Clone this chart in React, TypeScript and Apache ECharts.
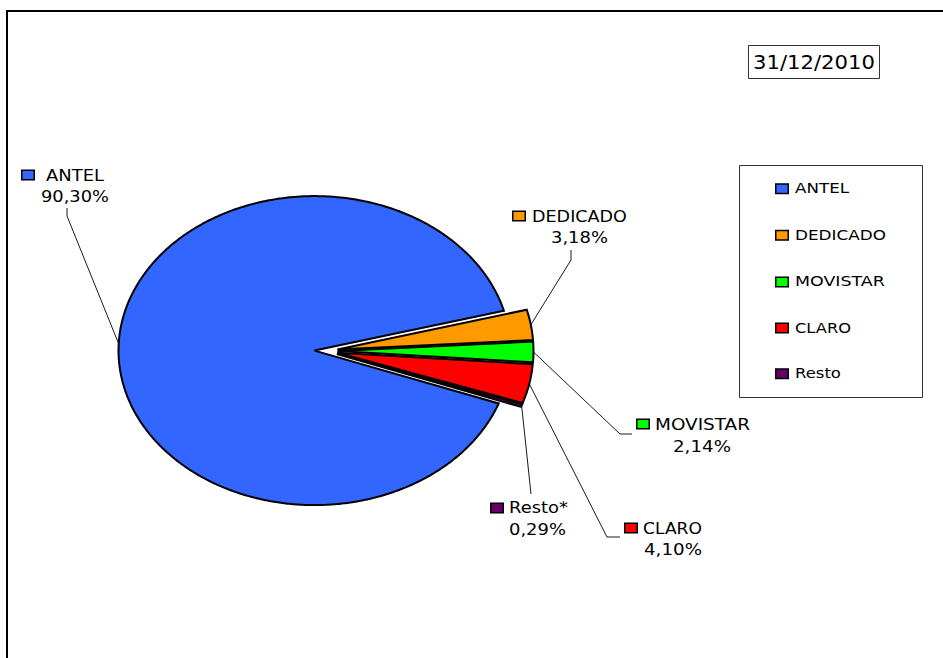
import React, { useEffect, useRef } from "react";
import * as echarts from "echarts";

// ---------- data ----------
const categories = ["ANTEL", "DEDICADO", "MOVISTAR", "CLARO", "Resto"];
const labelNames = ["ANTEL", "DEDICADO", "MOVISTAR", "CLARO", "Resto*"];
const shares = [90.3, 3.18, 2.14, 4.1, 0.29];
const sliceColors = ["#3366FF", "#FF9900", "#00FF00", "#FF0000", "#660066"];
const dateLabel = "31/12/2010";

// ---------- layout / style ----------
const FONT = '"DejaVu Sans", Verdana, sans-serif';
const PIE = { cx: 326, cy: 351, rx: 196, ry: 154.5, explode: 11.5, startAngle: -20 };

// sq: [left, top]; name/val: [left, centerY, targetWidth]; leader: points from label toward slice
const LABEL_LAYOUT = [
  { sq: [21, 170], name: [46, 175, 58], val: [41, 196, 68], leader: [[67, 208], [67, 216]] },
  { sq: [512, 211], name: [532, 216, 95], val: [551, 237, 57], leader: [[571, 250], [571, 260]] },
  { sq: [636, 419], name: [655, 424.5, 95], val: [673, 446, 58], leader: [[632, 434], [620, 434]] },
  { sq: [624, 523], name: [643, 528.5, 59], val: [644, 549, 58], leader: [[620, 537], [607, 537]] },
  { sq: [490, 503], name: [509, 507.5, 59], val: [509, 529, 57], leader: [[531, 494]] },
];

const LEGEND_BOX = { x: 739, y: 165, w: 183, h: 232 };
const LEGEND_ROWS = [188.7, 235.3, 282, 328, 373.7];
const LEGEND_WIDTHS = [54, 91, 90, 56, 46];
const LEGEND_SQ_X = 775;
const LEGEND_TEXT_X = 795;

const TITLE_BOX = { x: 748.5, y: 45.5, w: 131, h: 33 };

// ---------- helpers ----------
let measureCtx: CanvasRenderingContext2D | null = null;
function fitScale(text: string, size: number, target: number) {
  if (!measureCtx && typeof document !== "undefined") {
    measureCtx = document.createElement("canvas").getContext("2d");
  }
  if (!measureCtx) return 1;
  measureCtx.font = `${size}px "DejaVu Sans"`;
  const w = measureCtx.measureText(text).width;
  return w > 0 ? target / w : 1;
}

function txt(text: string, x: number, cy: number, size: number, target: number) {
  return {
    type: "text",
    x,
    y: cy,
    scaleX: fitScale(text, size, target),
    style: {
      text,
      x: 0,
      y: 0,
      fill: "#000",
      fontSize: size,
      fontFamily: FONT,
      align: "left",
      verticalAlign: "middle",
    },
  };
}

function keySquare(left: number, cy: number, color: string) {
  return {
    type: "rect",
    shape: { x: left + 0.75, y: cy - 4.75, width: 12.5, height: 9.5 },
    style: { fill: color, stroke: "#000", lineWidth: 1.5 },
  };
}

function fmtPct(v: number) {
  return v.toFixed(2).replace(".", ",") + "%";
}

const total = shares.reduce((a, b) => a + b, 0);

function sliceGeometry(i: number) {
  const before = shares.slice(0, i).reduce((a, b) => a + b, 0);
  const a0 = PIE.startAngle - (before / total) * 360;
  const a1 = a0 - (shares[i] / total) * 360;
  const mid = (a0 + a1) / 2;
  const rad = Math.PI / 180;
  const k = PIE.ry / PIE.rx;
  const cx = PIE.cx + Math.cos(mid * rad) * PIE.explode;
  const cy = PIE.cy - Math.sin(mid * rad) * PIE.explode * k;
  const pts: number[][] = [[cx, cy]];
  const steps = Math.max(2, Math.ceil(Math.abs(a1 - a0) / 0.5));
  for (let s = 0; s <= steps; s++) {
    const a = (a0 + ((a1 - a0) * s) / steps) * rad;
    pts.push([cx + PIE.rx * Math.cos(a), cy - PIE.ry * Math.sin(a)]);
  }
  const anchor = [cx + PIE.rx * Math.cos(mid * rad), cy - PIE.ry * Math.sin(mid * rad)];
  return { pts, anchor };
}

export default function App() {
  const ref = useRef<HTMLDivElement>(null);

  useEffect(() => {
    if (!ref.current) return;
    const chart = echarts.init(ref.current, undefined, { renderer: "svg" });

    const legendChildren: any[] = [
      {
        type: "rect",
        shape: { x: LEGEND_BOX.x + 0.5, y: LEGEND_BOX.y + 0.5, width: LEGEND_BOX.w, height: LEGEND_BOX.h },
        style: { fill: "#fff", stroke: "#333", lineWidth: 1 },
      },
    ];
    categories.forEach((c, i) => {
      legendChildren.push(keySquare(LEGEND_SQ_X, LEGEND_ROWS[i], sliceColors[i]));
      legendChildren.push(txt(c, LEGEND_TEXT_X, LEGEND_ROWS[i], 13.5, LEGEND_WIDTHS[i]));
    });

    const option: any = {
      animation: false,
      backgroundColor: "#fff",
      graphic: [
        {
          type: "rect",
          z: -10,
          shape: { x: 7, y: 11, width: 1200, height: 1200 },
          style: { fill: "#fff", stroke: "#000", lineWidth: 2 },
        },
        {
          type: "rect",
          shape: { x: TITLE_BOX.x, y: TITLE_BOX.y, width: TITLE_BOX.w, height: TITLE_BOX.h },
          style: { fill: "#fff", stroke: "#333", lineWidth: 1 },
        },
        txt(dateLabel, 753, 62, 19, 122),
        { type: "group", children: legendChildren },
      ],
      series: [
        {
          type: "custom",
          coordinateSystem: "none",
          data: shares.map((v, i) => ({ value: v, name: categories[i] })),
          renderItem: (params: any, api: any) => {
            const i = params.dataIndex;
            const v = api.value(0);
            const { pts, anchor } = sliceGeometry(i);
            const lay = LABEL_LAYOUT[i];
            const leaderPts = [...lay.leader, anchor];
            return {
              type: "group",
              children: [
                {
                  type: "polygon",
                  shape: { points: pts },
                  style: { fill: sliceColors[i], stroke: "#000", lineWidth: 2, lineJoin: "miter" },
                },
                {
                  type: "polyline",
                  shape: { points: leaderPts },
                  style: { fill: null, stroke: "#1a1a1a", lineWidth: 1 },
                },
                keySquare(lay.sq[0], lay.sq[1] + 5, sliceColors[i]),
                txt(labelNames[i], lay.name[0], lay.name[1], 16, lay.name[2]),
                txt(fmtPct(v), lay.val[0], lay.val[1], 16, lay.val[2]),
              ],
            };
          },
        },
      ],
    };

    chart.setOption(option);
    return () => chart.dispose();
  }, []);

  return (
    <div
      ref={ref}
      style={{ position: "absolute", left: 0, top: 0, width: 943, height: 658 }}
    />
  );
}
